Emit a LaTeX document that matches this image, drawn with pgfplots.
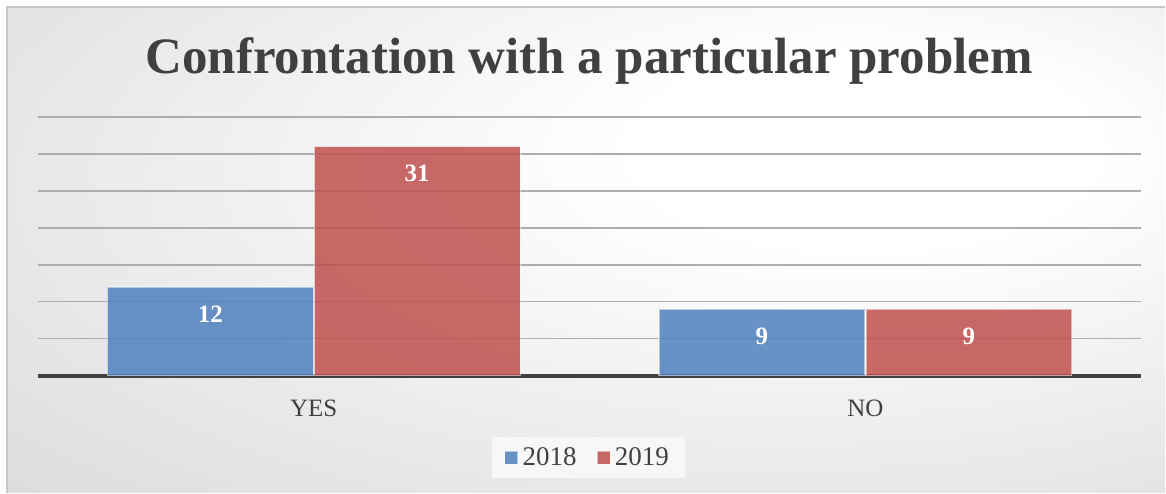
\documentclass[border=0pt]{standalone}
\usepackage{pgfplots}
\pgfplotsset{compat=1.18}
\usepackage{fontspec}
\setmainfont{Liberation Serif}
\definecolor{txt}{HTML}{404040}
\definecolor{cblue}{HTML}{4F81BD}
\definecolor{cred}{HTML}{C0504D}
\definecolor{bgout}{HTML}{BEBEBE}
\pgfdeclareradialshading{bgshade}{\pgfpoint{14bp}{12bp}}{color(0bp)=(white); color(10bp)=(white); color(72bp)=(bgout)}
\begin{document}
\begin{tikzpicture}[x=0.5pt,y=0.5pt]
\fill[white] (0,0) rectangle (1166,493);
\shade[shading=bgshade] (7,0) rectangle (1166,486);
\draw[black!22, line width=0.8pt] (7,0) -- (7,486) -- (1166,486);
\node[anchor=base, text=txt, font=\fontsize{25.5}{30}\selectfont\bfseries] at (589.5,419) {Confrontation with a particular problem};
\begin{axis}[
  at={(19pt,58.5pt)}, anchor=south west,
  scale only axis, width=552pt, height=129.5pt,
  xmin=-0.5, xmax=1.5, ymin=0, ymax=35,
  ybar=0.5pt, bar width=103pt,
  axis lines*=left,
  x axis line style={draw=txt, line width=2pt},
  y axis line style={draw=none},
  ytick={5,10,...,35}, yticklabels={},
  ymajorgrids, grid style={color=black!32, line width=0.7pt},
  major tick length=0pt,
  xtick={0,1}, xticklabels={YES,NO},
  xticklabel style={text=txt, font=\fontsize{12.5}{14}\selectfont, yshift=-8.5pt},
  /pgf/number format/assume math mode=true,
  nodes near coords,
  every node near coord/.append style={text=white, opacity=1, text opacity=1, font=\fontsize{12.5}{14}\selectfont\bfseries, anchor=center, yshift=-13.5pt},
  legend columns=2,
  legend style={at={(0.499,-0.317)}, anchor=center, fill=black!3, draw=none, text=txt,
    font=\fontsize{13.5}{15}\selectfont, inner xsep=6pt, inner ysep=3pt,
    /tikz/every even column/.append style={column sep=8pt}},
  legend image code/.code={\fill[#1] (0pt,-3.3pt) rectangle (6.6pt,3.3pt);},
  clip=false,
]
\addplot[fill=cblue, fill opacity=0.85, draw=white, draw opacity=0.5, line width=0.6pt] coordinates {(0,12) (1,9)};
\addplot[fill=cred, fill opacity=0.85, draw=white, draw opacity=0.5, line width=0.6pt] coordinates {(0,31) (1,9)};
\legend{2018,2019}
\end{axis}
\end{tikzpicture}
\end{document}
